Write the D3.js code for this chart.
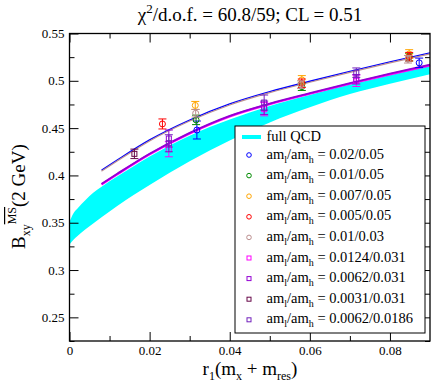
<!DOCTYPE html>
<html>
<head>
<meta charset="utf-8">
<script src="https://cdn.jsdelivr.net/npm/d3@7"></script>
<style>
  body { margin: 0; background: #fff; }
  text { font-family: "Liberation Serif", "Times New Roman", serif; fill: #000; }
</style>
</head>
<body>
<svg id="chart" width="432" height="382"></svg>
<script>
// ---- data ----
var xTicks = [0, 0.02, 0.04, 0.06, 0.08];
var xMinor = [0.01, 0.03, 0.05, 0.07];
var yTicks = [0.25, 0.3, 0.35, 0.4, 0.45, 0.5, 0.55];
var yMinor = [0.225, 0.275, 0.325, 0.375, 0.425, 0.475, 0.525];

// full QCD band
var bandX  = [0, 0.001, 0.002, 0.004, 0.006, 0.008, 0.012, 0.02, 0.03, 0.04, 0.05, 0.06, 0.07, 0.08, 0.09];
var bandHi = [0.351, 0.360, 0.365, 0.374, 0.382, 0.388, 0.399, 0.420, 0.442, 0.459, 0.4735, 0.485, 0.496, 0.506, 0.516];
var bandLo = [0.327, 0.332, 0.336, 0.343, 0.3495, 0.3558, 0.368, 0.390, 0.415, 0.437, 0.456, 0.472, 0.486, 0.497, 0.507];

// partially quenched fit curves
var fitX     = [0.008, 0.012, 0.02, 0.03, 0.04, 0.05, 0.06, 0.07, 0.08, 0.09];
var fitUpper = [0.405, 0.416, 0.437, 0.458, 0.475, 0.488, 0.499, 0.5095, 0.5195, 0.529];
var fitLower = [0.391, 0.402, 0.423, 0.445, 0.463, 0.476, 0.487, 0.4975, 0.5075, 0.517];

// ensembles: am_l/am_h
var ensembles = ["0.02/0.05", "0.01/0.05", "0.007/0.05", "0.005/0.05", "0.01/0.03",
                 "0.0124/0.031", "0.0062/0.031", "0.0031/0.031", "0.0062/0.0186"];
var ptX = [
  [0.0318, 0.0873],
  [0.0316, 0.0580, 0.0848],
  [0.0314, 0.0580, 0.0848],
  [0.0232, 0.0580, 0.0848],
  [0.0315, 0.0578, 0.0845],
  [0.0248, 0.0486, 0.0716],
  [0.0248, 0.0486, 0.0716],
  [0.0162],
  [0.0248, 0.0486, 0.0716]
];
var ptY = [
  [0.448, 0.519],
  [0.4587, 0.4938, 0.525],
  [0.4740, 0.5010, 0.5284],
  [0.4544, 0.4974, 0.5255],
  [0.4657, 0.4960, 0.5228],
  [0.4277, 0.4700, 0.5000],
  [0.4390, 0.4715, 0.5016],
  [0.4228],
  [0.4340, 0.4770, 0.5086]
];
var ptErr = [
  [0.0095, 0.005],
  [0.005, 0.004, 0.004],
  [0.0042, 0.0045, 0.0045],
  [0.0053, 0.0045, 0.0045],
  [0.004, 0.004, 0.004],
  [0.008, 0.007, 0.006],
  [0.009, 0.007, 0.005],
  [0.005],
  [0.009, 0.008, 0.005]
];

// ---- styles ----
var colors = ["#0000ff", "#008b00", "#ffa500", "#ff0000", "#bc8f8f",
              "#ff00ff", "#9400d3", "#670748", "#7221bc"];

var svg = d3.select("#chart");
var x = d3.scaleLinear().domain([0, 0.09]).range([69.5, 430]);
var y = d3.scaleLinear().domain([0.225, 0.55]).range([341, 33.5]);

var plot = svg.append("g");

// band
var area = d3.area()
    .x(function(d, i) { return x(bandX[i]); })
    .y0(function(d, i) { return y(bandLo[i]); })
    .y1(function(d, i) { return y(bandHi[i]); })
    .curve(d3.curveMonotoneX);
plot.append("path").datum(bandX).attr("d", area).attr("fill", "#00ffff");

// fit lines
function fitLine(vals) {
  return d3.line()
      .x(function(d, i) { return x(fitX[i]); })
      .y(function(d, i) { return y(vals[i]); })
      .curve(d3.curveMonotoneX)(fitX);
}
plot.append("path").attr("d", fitLine(fitLower)).attr("fill", "none")
    .attr("stroke", "#ff00ff").attr("stroke-width", 2.2).attr("transform", "translate(0,0.6)");
plot.append("path").attr("d", fitLine(fitLower)).attr("fill", "none")
    .attr("stroke", "#9400d3").attr("stroke-width", 1.8);
plot.append("path").attr("d", fitLine(fitUpper)).attr("fill", "none")
    .attr("stroke", "#0000ff").attr("stroke-width", 1.4).attr("transform", "translate(0,-0.5)");
plot.append("path").attr("d", fitLine(fitUpper)).attr("fill", "none")
    .attr("stroke", "#bc8f8f").attr("stroke-width", 1.2).attr("transform", "translate(0,0.5)");

// data points with error bars
ensembles.forEach(function(name, s) {
  var g = plot.append("g").attr("stroke", colors[s]).attr("fill", "none").attr("stroke-width", 1);
  ptX[s].forEach(function(xv, i) {
    var cx = x(xv), cy = y(ptY[s][i]);
    var top = y(ptY[s][i] + ptErr[s][i]), bot = y(ptY[s][i] - ptErr[s][i]);
    g.append("line").attr("x1", cx).attr("x2", cx).attr("y1", top).attr("y2", bot);
    g.append("line").attr("x1", cx - 4).attr("x2", cx + 4).attr("y1", top).attr("y2", top);
    g.append("line").attr("x1", cx - 4).attr("x2", cx + 4).attr("y1", bot).attr("y2", bot);
    if (s < 5) {
      g.append("circle").attr("cx", cx).attr("cy", cy).attr("r", 3);
    } else {
      g.append("rect").attr("x", cx - 2.5).attr("y", cy - 2.5).attr("width", 5).attr("height", 5);
    }
  });
});

// axes (ticks point inward on all four sides)
function styleAxis(g) {
  g.select(".domain").remove();
  g.selectAll("line").attr("stroke", "#000");
  g.selectAll("text").style("font-family", "Liberation Serif").style("font-size", "13px");
}
svg.append("g").attr("transform", "translate(0,341)")
    .call(d3.axisBottom(x).tickValues(xTicks).tickSize(-9).tickPadding(5)
      .tickFormat(function(d) { return d === 0 ? "0" : d3.format(".2f")(d); }))
    .call(styleAxis);
svg.append("g").attr("transform", "translate(0,341)")
    .call(d3.axisBottom(x).tickValues(xMinor).tickSize(-5).tickFormat(""))
    .call(styleAxis);
svg.append("g").attr("transform", "translate(0,33.5)")
    .call(d3.axisTop(x).tickValues(xTicks).tickSize(-9).tickFormat(""))
    .call(styleAxis);
svg.append("g").attr("transform", "translate(0,33.5)")
    .call(d3.axisTop(x).tickValues(xMinor).tickSize(-5).tickFormat(""))
    .call(styleAxis);
svg.append("g").attr("transform", "translate(69.5,0)")
    .call(d3.axisLeft(y).tickValues(yTicks).tickSize(-9).tickPadding(5)
      .tickFormat(function(d) { return d3.format(".2~f")(d); }))
    .call(styleAxis);
svg.append("g").attr("transform", "translate(69.5,0)")
    .call(d3.axisLeft(y).tickValues(yMinor).tickSize(-5).tickFormat(""))
    .call(styleAxis);
svg.append("g").attr("transform", "translate(430,0)")
    .call(d3.axisRight(y).tickValues(yTicks).tickSize(-9).tickFormat(""))
    .call(styleAxis);
svg.append("g").attr("transform", "translate(430,0)")
    .call(d3.axisRight(y).tickValues(yMinor).tickSize(-5).tickFormat(""))
    .call(styleAxis);

svg.append("rect").attr("x", 69.5).attr("y", 33.5).attr("width", 430 - 69.5).attr("height", 341 - 33.5)
    .attr("fill", "none").attr("stroke", "#000").attr("stroke-width", 1.3);

// title
var title = svg.append("text").attr("x", 250).attr("y", 21).attr("text-anchor", "middle").style("font-size", "19px");
title.append("tspan").text("χ");
title.append("tspan").attr("dy", -8).style("font-size", "13px").text("2");
title.append("tspan").attr("dy", 8).text("/d.o.f. = 60.8/59; CL = 0.51");

// x label
var xl = svg.append("text").attr("x", 250).attr("y", 375).attr("text-anchor", "middle").style("font-size", "19px");
xl.append("tspan").text("r");
xl.append("tspan").attr("dy", 5).style("font-size", "12px").text("1");
xl.append("tspan").attr("dy", -5).text("(m");
xl.append("tspan").attr("dy", 5).style("font-size", "12px").text("x");
xl.append("tspan").attr("dy", -5).text(" + m");
xl.append("tspan").attr("dy", 5).style("font-size", "12px").text("res");
xl.append("tspan").attr("dy", -5).text(")");

// y label
var yl = svg.append("text").attr("transform", "translate(25,249) rotate(-90)").style("font-size", "19px");
yl.append("tspan").text("B");
yl.append("tspan").attr("dy", 5).style("font-size", "12px").text("xy");
yl.append("tspan").attr("dy", -14).style("font-size", "12px").style("text-decoration", "overline").text("MS");
yl.append("tspan").attr("dy", 9).text("(2 GeV)");

// legend
var leg = svg.append("g");
leg.append("rect").attr("x", 235).attr("y", 126).attr("width", 190).attr("height", 207)
    .attr("fill", "#fff").attr("stroke", "#000").attr("stroke-width", 1);
leg.append("line").attr("x1", 242).attr("x2", 261).attr("y1", 137).attr("y2", 137)
    .attr("stroke", "#00ffff").attr("stroke-width", 4);
leg.append("text").attr("x", 266.5).attr("y", 141).style("font-size", "14.5px").text("full QCD");
ensembles.forEach(function(name, s) {
  var base = 158.5 + s * 20.6;
  if (s < 5) {
    leg.append("circle").attr("cx", 249).attr("cy", base - 3.5).attr("r", 2.3)
        .attr("fill", "none").attr("stroke", colors[s]).attr("stroke-width", 1);
  } else {
    leg.append("rect").attr("x", 247).attr("y", base - 5.5).attr("width", 4).attr("height", 4)
        .attr("fill", "none").attr("stroke", colors[s]).attr("stroke-width", 1);
  }
  var t = leg.append("text").attr("x", 266.5).attr("y", base).style("font-size", "14.5px");
  t.append("tspan").text("am");
  t.append("tspan").attr("dy", 4).style("font-size", "10px").text("l");
  t.append("tspan").attr("dy", -4).text("/am");
  t.append("tspan").attr("dy", 4).style("font-size", "10px").text("h");
  t.append("tspan").attr("dy", -4).text(" = " + name);
});
</script>
</body>
</html>
